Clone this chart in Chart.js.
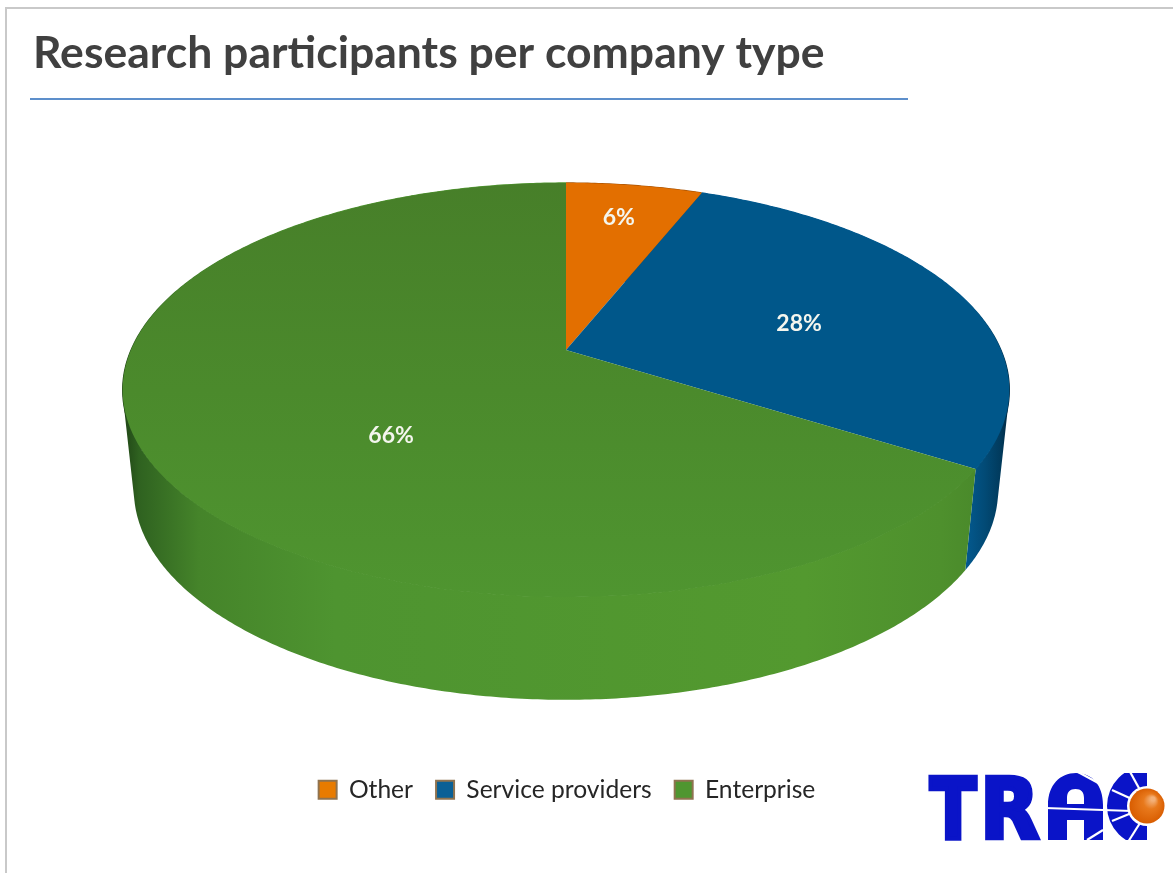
<!DOCTYPE html>
<html><head><meta charset="utf-8">
<style>html,body{margin:0;padding:0;background:#fff}#w{width:1173px;height:873px}</style>
<script src="https://cdn.jsdelivr.net/npm/chart.js@4"></script>
</head><body><div id="w"><canvas id="c" width="1173" height="873"></canvas></div>
<script>
const categories = ['Other', 'Service providers', 'Enterprise'];
const shares = [6, 28, 66];
const chartTitle = 'Research participants per company type';
const sliceColors = ['#e36f00', '#00578a', '#4b8a2c'];
const legendBorder = '#8f7350';

// perspective model of the pie: disc top face and disc bottom face
const topFace = {cx:566, cy:350, A:435, B:199.3, k:-0.193};
const bottomFace = {cx:566, cy:449.5, A:424, B:202, k:-0.193};
const labelRadius = [0.787, 0.583, 0.44];
const labelNudge = [[-3,2],[0,8],[0,42]];

function project(f, t, r){
  const u = Math.sin(t)*r, v = -Math.cos(t)*r, d = 1 + f.k*v;
  return [f.cx + f.A*u/d, f.cy + f.B*v/d];
}
function rim(f, a, b){
  const n = Math.max(2, Math.ceil((b-a)/0.01)), pts = [];
  for(let i=0;i<=n;i++) pts.push(project(f, a+(b-a)*i/n, 1));
  return pts;
}
function poly(ctx, pts){
  ctx.beginPath();
  pts.forEach((p,i)=> i ? ctx.lineTo(p[0],p[1]) : ctx.moveTo(p[0],p[1]));
  ctx.closePath();
}
function wallPath(ctx, a, b){
  const tp = rim(topFace,a,b), bt = rim(bottomFace,a,b);
  ctx.beginPath();
  for(let i=0;i<tp.length-1;i++){
    let q = [tp[i],tp[i+1],bt[i+1],bt[i]], s = 0;
    q.forEach((p,j)=>{const n=q[(j+1)%4]; s += p[0]*n[1]-n[0]*p[1];});
    if(s<0) q = q.reverse();
    q.forEach((p,j)=> j ? ctx.lineTo(p[0],p[1]) : ctx.moveTo(p[0],p[1]));
    ctx.closePath();
  }
}
function hGrad(ctx, x0, x1, stops){
  const g = ctx.createLinearGradient(x0,0,x1,0);
  stops.forEach(s=>g.addColorStop(s[0],s[1]));
  return g;
}
const pie3d = {
  id:'pie3d',
  beforeDatasetsDraw(chart){
    const ctx = chart.ctx, arcs = chart.getDatasetMeta(0).data;
    const ang = arcs.map(a=>[a.startAngle+Math.PI/2, a.endAngle+Math.PI/2]);
    ctx.save();
    const wallFill = [
      '#a85200',
      hGrad(ctx,965,1010,[[0,'#035a90'],[0.45,'#024a75'],[0.8,'#013a5c'],[1,'#01243a']]),
      hGrad(ctx,122,975,[[0,'#1f4315'],[0.02,'#2f6220'],[0.09,'#45842a'],[0.25,'#4e9430'],[0.8,'#53992f'],[0.96,'#4e902d'],[1,'#4a8a2b']])
    ];
    [0,1,2].forEach(i=>{
      wallPath(ctx,ang[i][0],ang[i][1]); ctx.fillStyle = wallFill[i]; ctx.fill();
      const edge = rim(topFace,ang[i][0],ang[i][1]);
      ctx.beginPath();
      edge.forEach((p,j)=> j ? ctx.lineTo(p[0],p[1]) : ctx.moveTo(p[0],p[1]));
      ctx.strokeStyle = wallFill[i]; ctx.lineWidth = 1.2; ctx.stroke();
    });
    const g = ctx.createLinearGradient(0,183,0,597);
    g.addColorStop(0,'#477f29'); g.addColorStop(0.5,'#4b8a2c'); g.addColorStop(1,'#4f9530');
    const topFill = [sliceColors[0], sliceColors[1], g];
    [0,1,2].forEach(i=>{
      const pts = [project(topFace,0,0)].concat(rim(topFace,ang[i][0],ang[i][1]));
      poly(ctx,pts); ctx.fillStyle = topFill[i]; ctx.fill();
    });
    const total = shares.reduce((a,b)=>a+b,0);
    ctx.fillStyle = '#f4f6ee';
    ctx.font = '700 23px Lato';
    ctx.textAlign = 'center'; ctx.textBaseline = 'middle';
    shares.forEach((v,i)=>{
      const p = project(topFace,(ang[i][0]+ang[i][1])/2,labelRadius[i]);
      ctx.fillText(Math.round(v/total*100)+'%', p[0]+labelNudge[i][0], p[1]+labelNudge[i][1]);
    });
    ctx.restore();
    return false;
  },
  afterDraw(chart){
    const ctx = chart.ctx;
    ctx.save();
    ctx.strokeStyle = '#c9c9c9'; ctx.lineWidth = 2;
    ctx.beginPath(); ctx.moveTo(6,873); ctx.lineTo(6,8); ctx.lineTo(1173,8); ctx.stroke();
    ctx.strokeStyle = '#5d8fcb'; ctx.lineWidth = 2;
    ctx.beginPath(); ctx.moveTo(30,99); ctx.lineTo(908,99); ctx.stroke();
    // logo
    const blue = '#0a14c8', sx=1147, sy=806;
    ctx.fillStyle = blue; ctx.strokeStyle = blue; ctx.textBaseline = 'alphabetic'; ctx.textAlign = 'left';
    ctx.font = 'bold 90px "DejaVu Sans"';
    [['T',930,976],['R',987,1038]].forEach(l=>{
      const m = ctx.measureText(l[0]);
      const w = m.actualBoundingBoxLeft + m.actualBoundingBoxRight;
      const h = m.actualBoundingBoxAscent;
      ctx.save();
      ctx.translate(l[1],838);
      ctx.scale((l[2]-l[1])/w, 62/h);
      ctx.lineWidth = 5; ctx.lineJoin = 'miter';
      ctx.fillText(l[0], m.actualBoundingBoxLeft, 0);
      ctx.strokeText(l[0], m.actualBoundingBoxLeft, 0);
      ctx.restore();
    });
    // arched A
    ctx.beginPath();
    ctx.moveTo(1048,840); ctx.lineTo(1048,805);
    ctx.bezierCurveTo(1048,785,1060,773,1076,773);
    ctx.bezierCurveTo(1092,773,1103,785,1103,805);
    ctx.lineTo(1103,840); ctx.lineTo(1084,840); ctx.lineTo(1084,820); ctx.lineTo(1067,820); ctx.lineTo(1067,840);
    ctx.closePath();
    ctx.moveTo(1067,804); ctx.lineTo(1084,804); ctx.lineTo(1084,798);
    ctx.bezierCurveTo(1084,792,1081,789,1075.5,789);
    ctx.bezierCurveTo(1070,789,1067,792,1067,798);
    ctx.closePath();
    ctx.fill('evenodd');
    // sun ring standing in for C
    ctx.save();
    ctx.beginPath(); ctx.rect(1100,773,47,67); ctx.clip();
    ctx.beginPath(); ctx.arc(sx,sy,40,0,Math.PI*2); ctx.arc(sx,sy,20,0,Math.PI*2,true); ctx.fill();
    ctx.restore();
    ctx.strokeStyle='#fff'; ctx.lineWidth=2.2;
    [[1045,808,1132,811],[1112,790,1134,800],[1112,821,1134,812],[1129,770,1140,790],[1128,842,1140,823],
     [1078,772,1102,785],[1087,840,1103,830]].forEach(s=>{
      ctx.beginPath(); ctx.moveTo(s[0],s[1]); ctx.lineTo(s[2],s[3]); ctx.stroke();
    });
    const s = ctx.createRadialGradient(1153,799,2,sx,sy,18);
    s.addColorStop(0,'#f3b078'); s.addColorStop(0.35,'#e8791c'); s.addColorStop(1,'#d85c00');
    ctx.fillStyle=s; ctx.beginPath(); ctx.arc(sx,sy,17.5,0,Math.PI*2); ctx.fill();
    ctx.restore();
  }
};
new Chart(document.getElementById('c'),{
  type:'pie',
  data:{labels:categories,datasets:[{data:shares,backgroundColor:['#e87b00','#0a6096','#4f9630'],borderColor:legendBorder,borderWidth:2}]},
  options:{
    responsive:false,animation:false,
    layout:{padding:{left:33,right:72,top:27,bottom:61}},
    plugins:{
      tooltip:{enabled:false},
      title:{display:true,text:chartTitle,align:'start',color:'#404040',
        font:{family:'Lato',size:44.5,weight:'700'},padding:{top:0,bottom:20}},
      legend:{position:'bottom',
        labels:{boxWidth:18,boxHeight:18,padding:23,color:'#262626',
          font:{family:'Lato',size:24.6}}}
    }
  },
  plugins:[pie3d]
});
</script></body></html>
